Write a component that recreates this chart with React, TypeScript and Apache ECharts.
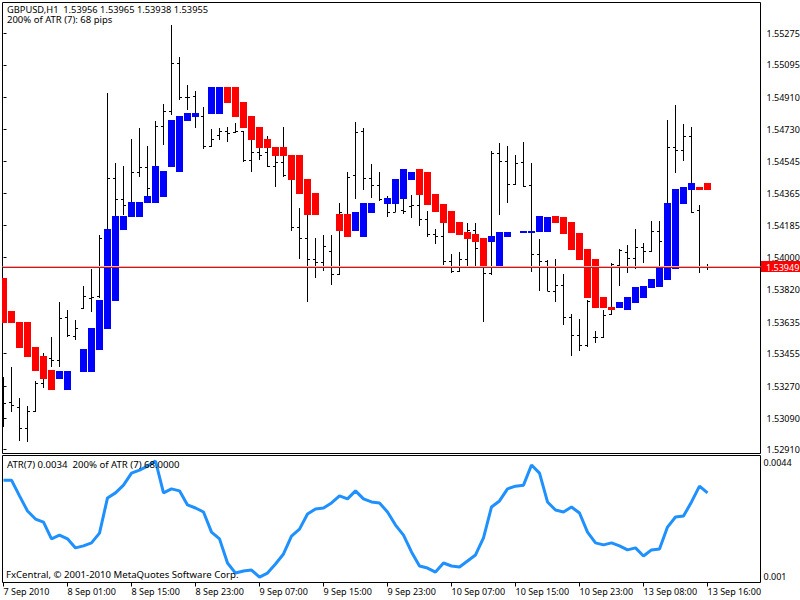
import React, { useEffect, useRef } from "react";
import * as echarts from "echarts";

const highs = [1.53323,1.53380,1.53204,1.53158,1.53300,1.53459,1.53550,1.53749,1.53703,1.53646,1.53839,1.53936,1.54129,1.54935,1.54537,1.54520,1.54674,1.54736,1.54634,1.54776,1.54872,1.55321,1.55139,1.54980,1.54946,1.54855,1.54731,1.54736,1.54742,1.54765,1.54719,1.54668,1.54623,1.54691,1.54577,1.54742,1.54441,1.54282,1.54242,1.54112,1.54129,1.54129,1.54310,1.54486,1.54770,1.54736,1.54532,1.54486,1.54350,1.54384,1.54333,1.54356,1.54356,1.54265,1.54163,1.54197,1.54021,1.54032,1.54197,1.54197,1.54100,1.54606,1.54651,1.54634,1.54583,1.54657,1.54537,1.54106,1.53987,1.53993,1.53907,1.53680,1.53652,1.53760,1.53584,1.53703,1.53970,1.54049,1.54072,1.54163,1.54083,1.54208,1.54208,1.54782,1.54867,1.54759,1.54742,1.54299,1.53964];
const lows = [1.53039,1.53124,1.52960,1.52954,1.53124,1.53260,1.53380,1.53380,1.53550,1.53533,1.53709,1.53692,1.53771,1.54100,1.54186,1.54242,1.54316,1.54458,1.54350,1.54520,1.54640,1.54810,1.54895,1.54838,1.54736,1.54617,1.54628,1.54668,1.54657,1.54708,1.54543,1.54486,1.54555,1.54515,1.54401,1.54458,1.54152,1.53993,1.53749,1.53885,1.53925,1.53845,1.53902,1.54118,1.54333,1.54384,1.54339,1.54322,1.54231,1.54259,1.54248,1.54225,1.54180,1.54118,1.54078,1.53959,1.53913,1.53919,1.53947,1.53947,1.53635,1.53902,1.54242,1.54310,1.54413,1.54401,1.53919,1.53811,1.53811,1.53749,1.53618,1.53442,1.53470,1.53493,1.53516,1.53544,1.53675,1.53839,1.53913,1.53936,1.53970,1.54032,1.53947,1.54044,1.54481,1.54549,1.54254,1.53913,1.53930];
const opens = [1.53175,1.53181,1.53153,1.53033,1.53130,1.53289,1.53431,1.53419,1.53663,1.53556,1.53714,1.53771,1.53783,1.54112,1.54452,1.54333,1.54299,1.54486,1.54515,1.54396,1.54748,1.54833,1.55105,1.54912,1.54918,1.54804,1.54634,1.54696,1.54719,1.54713,1.54719,1.54555,1.54600,1.54600,1.54520,1.54543,1.54469,1.54174,1.54112,1.53993,1.53976,1.54038,1.53907,1.54248,1.54469,1.54719,1.54452,1.54413,1.54322,1.54259,1.54271,1.54293,1.54299,1.54220,1.54135,1.54123,1.53981,1.53925,1.53993,1.54157,1.54055,1.53913,1.54594,1.54549,1.54418,1.54543,1.54413,1.54021,1.53981,1.53811,1.53845,1.53663,1.53561,1.53504,1.53550,1.53550,1.53680,1.53959,1.54032,1.53998,1.54061,1.54038,1.54152,1.54095,1.54628,1.54611,1.54691,1.54271,1.53953];
const closes = [1.53175,1.53164,1.53033,1.53130,1.53289,1.53317,1.53419,1.53658,1.53561,1.53601,1.53783,1.53777,1.54112,1.54452,1.54333,1.54299,1.54486,1.54515,1.54396,1.54748,1.54833,1.55105,1.54912,1.54912,1.54804,1.54634,1.54674,1.54719,1.54708,1.54719,1.54555,1.54600,1.54583,1.54520,1.54543,1.54469,1.54174,1.54112,1.53993,1.53976,1.54066,1.53907,1.54259,1.54458,1.54713,1.54452,1.54413,1.54333,1.54259,1.54356,1.54265,1.54299,1.54220,1.54135,1.54123,1.53981,1.53925,1.53993,1.54157,1.54055,1.53913,1.54594,1.54549,1.54418,1.54537,1.54407,1.54021,1.53981,1.53811,1.53845,1.53663,1.53561,1.53504,1.53754,1.53550,1.53675,1.53964,1.54044,1.53998,1.54061,1.54038,1.54152,1.54095,1.54628,1.54611,1.54691,1.54259,1.53953,1.53953];
const bodyOpens: (number | null)[] = [1.53885,1.53698,1.53635,1.53635,1.53493,1.53442,1.53363,1.53311,1.53249,null,1.53351,1.53351,1.53476,1.53595,1.53754,1.54157,1.54231,1.54231,1.54310,1.54310,1.54344,1.54515,1.54486,1.54776,1.54799,null,1.54816,1.54816,1.54969,1.54969,1.54884,1.54804,1.54742,1.54674,1.54628,1.54628,1.54583,1.54583,1.54447,1.54367,null,null,1.54248,1.54248,1.54152,1.54118,1.54254,null,1.54305,1.54305,1.54333,1.54441,1.54503,1.54486,1.54362,1.54305,1.54265,1.54203,1.54146,1.54135,1.54112,1.54089,1.53953,1.54118,null,1.54140,1.54140,1.54146,1.54146,1.54237,1.54231,1.54203,1.54140,1.54049,1.53993,1.53777,1.53720,1.53714,1.53703,1.53743,1.53771,1.53828,1.53834,1.53873,1.53936,1.54305,1.54384,1.54401,1.54424];
const bodyCloses: (number | null)[] = [1.53629,1.53629,1.53487,1.53436,1.53357,1.53311,1.53249,1.53357,1.53357,null,1.53482,1.53601,1.53760,1.54163,1.54237,1.54237,1.54316,1.54316,1.54350,1.54520,1.54492,1.54782,1.54804,1.54821,1.54821,null,1.54969,1.54969,1.54878,1.54799,1.54736,1.54668,1.54623,1.54623,1.54577,1.54577,1.54441,1.54362,1.54242,1.54242,null,null,1.54152,1.54118,1.54259,1.54310,1.54310,null,1.54339,1.54447,1.54503,1.54486,1.54356,1.54299,1.54259,1.54197,1.54140,1.54129,1.54106,1.54089,1.53953,1.54123,1.54146,1.54146,null,1.54152,1.54152,1.54237,1.54231,1.54197,1.54135,1.54044,1.53987,1.53771,1.53714,1.53714,1.53703,1.53749,1.53777,1.53834,1.53839,1.53879,1.53947,1.54310,1.54390,1.54401,1.54424,1.54384,1.54384];
const atrValues = [0.00386,0.00386,0.00339,0.00294,0.00270,0.00261,0.00211,0.00222,0.00211,0.00184,0.00190,0.00199,0.00228,0.00333,0.00348,0.00371,0.00407,0.00416,0.00428,0.00443,0.00348,0.00360,0.00354,0.00312,0.00303,0.00291,0.00231,0.00211,0.00139,0.00109,0.00115,0.00118,0.00097,0.00109,0.00136,0.00166,0.00219,0.00240,0.00285,0.00300,0.00303,0.00318,0.00339,0.00330,0.00354,0.00330,0.00321,0.00318,0.00291,0.00252,0.00222,0.00172,0.00130,0.00124,0.00112,0.00139,0.00130,0.00127,0.00145,0.00163,0.00214,0.00306,0.00324,0.00360,0.00368,0.00371,0.00431,0.00407,0.00321,0.00297,0.00291,0.00306,0.00288,0.00231,0.00199,0.00193,0.00199,0.00190,0.00178,0.00184,0.00160,0.00178,0.00181,0.00246,0.00276,0.00279,0.00321,0.00368,0.00348];

const priceTicks = [1.55275,1.55095,1.54910,1.54730,1.54545,1.54365,1.54185,1.54000,1.53820,1.53635,1.53455,1.53270,1.53090,1.52910];
const atrTicks = [0.0044, 0.001];
const timeTickIndex = [0,8,16,24,32,40,48,56,64,72,80,88];
const timeTickLabels = ["7 Sep 2010","8 Sep 01:00","8 Sep 15:00","8 Sep 23:00","9 Sep 07:00","9 Sep 15:00","9 Sep 23:00","10 Sep 07:00","10 Sep 15:00","10 Sep 23:00","13 Sep 08:00","13 Sep 16:00"];
const bidPrice = 1.53949;
const upperLine = 1.53955;
const headerLines = ["GBPUSD,H1  1.53956 1.53965 1.53938 1.53955", "200% of ATR (7): 68 pips"];
const atrCaption = "ATR(7) 0.0034  200% of ATR (7) 68.0000";
const brokerCaption = "FxCentral, © 2001-2010 MetaQuotes Software Corp.";

const FONT = '"Noto Sans"';
const FS = 9;
const X_MIN = -0.125;
const X_MAX = 94.625;

const barData = highs.map((h, i) => [i, opens[i], h, lows[i], closes[i]]);
const bodyData = bodyOpens
  .map((o, i) => [i, o, bodyCloses[i]])
  .filter((d) => d[1] !== null);
const atrData = atrValues.map((v, i) => [i, v]);
const priceLineData = [[upperLine], [bidPrice]];

const renderBar = (_p: any, api: any) => {
  const i = api.value(0);
  const px = Math.floor(api.coord([i, api.value(2)])[0]) + 0.5;
  const y = (k: number) => api.coord([i, api.value(k)])[1];
  const style = { stroke: "#000", lineWidth: 1, fill: "none" };
  const row = (k: number) => Math.round(y(k)) + 0.5;
  return {
    type: "group",
    children: [
      { type: "line", shape: { x1: px, y1: Math.round(y(2)), x2: px, y2: Math.round(y(3)) }, style },
      { type: "line", shape: { x1: px - 2.5, y1: row(1), x2: px, y2: row(1) }, style },
      { type: "line", shape: { x1: px, y1: row(4), x2: px + 2.5, y2: row(4) }, style },
    ],
  };
};

const renderBody = (_p: any, api: any) => {
  const i = api.value(0);
  const o = api.value(1);
  const c = api.value(2);
  const a = api.coord([i, o]);
  const b = api.coord([i, c]);
  const px = Math.floor(a[0]) + 0.5;
  const top = Math.round(Math.min(a[1], b[1]));
  const bottom = Math.round(Math.max(a[1], b[1]));
  return {
    type: "rect",
    shape: { x: px - 3.5, y: top, width: 7, height: bottom - top },
    style: { fill: c > o ? "#0000FF" : "#FF0000", stroke: "none" },
  };
};

const renderPriceLine = (p: any, api: any) => {
  const price = api.value(0);
  const a = api.coord([X_MIN, price]);
  const b = api.coord([X_MAX, price]);
  const y = Math.round(a[1]) + 0.5;
  const isBid = p.dataIndex === 1;
  const children: any[] = [
    {
      type: "line",
      shape: { x1: a[0], y1: y, x2: b[0], y2: y },
      style: { stroke: isBid ? "#FF0000" : "#C0C0C0", lineWidth: 1, fill: "none" },
    },
  ];
  if (isBid) {
    children.push(
      { type: "rect", shape: { x: b[0] + 0.5, y: y - 6.5, width: 39, height: 11 }, style: { fill: "#FF0000", stroke: "none" } },
      {
        type: "text",
        x: b[0] + 5.5,
        y: y - 0.5,
        style: { text: price.toFixed(5), fill: "#fff", font: `${FS}px ${FONT}`, verticalAlign: "middle", align: "left" },
      }
    );
  }
  return { type: "group", children };
};

const text = (s: string, x: number, y: number, size = FS) => ({
  type: "text",
  x,
  y,
  z: 20,
  silent: true,
  style: { text: s, fill: "#000", font: `${size}px ${FONT}` },
});

export default function App() {
  const ref = useRef<HTMLDivElement>(null);
  useEffect(() => {
    document.body.style.margin = "0";
    const chart = echarts.init(ref.current!, null, { renderer: "svg" });
    const gridStyle = {
      show: true,
      borderColor: "#000",
      borderWidth: 1,
      backgroundColor: "#fff",
      outerBoundsMode: "none",
    };
    chart.setOption({
      animation: false,
      backgroundColor: "#fff",
      grid: [
        { left: 2.5, top: 2.5, width: 758, height: 451, ...gridStyle },
        { left: 2.5, top: 455.5, width: 758, height: 127, ...gridStyle },
      ],
      xAxis: [
        { type: "value", gridIndex: 0, min: X_MIN, max: X_MAX, show: false, splitLine: { show: false } },
        {
          type: "value",
          gridIndex: 1,
          min: X_MIN,
          max: X_MAX,
          splitLine: { show: false },
          axisLine: { show: false },
          axisTick: { show: true, length: 4, customValues: timeTickIndex, lineStyle: { color: "#000" } },
          axisLabel: {
            customValues: timeTickIndex,
            align: "left",
            margin: 4,
            hideOverlap: false,
            showMinLabel: true,
            showMaxLabel: true,
            color: "#000",
            fontFamily: FONT,
            fontSize: FS,
            formatter: (v: number) => timeTickLabels[timeTickIndex.indexOf(v)] ?? "",
          },
        },
      ],
      yAxis: [
        {
          type: "value",
          gridIndex: 0,
          position: "right",
          min: 1.528886,
          max: 1.554485,
          splitLine: { show: false },
          axisLine: { show: false },
          axisTick: { show: true, length: 3, customValues: priceTicks, lineStyle: { color: "#000" } },
          axisLabel: {
            customValues: priceTicks,
            margin: 6,
            color: "#000",
            fontFamily: FONT,
            fontSize: FS,
            formatter: (v: number) => v.toFixed(5),
          },
        },
        {
          type: "value",
          gridIndex: 1,
          position: "right",
          min: 0.000809,
          max: 0.004594,
          splitLine: { show: false },
          axisLine: { show: false },
          axisTick: { show: false },
          axisLabel: {
            customValues: atrTicks,
            margin: 3,
            color: "#000",
            fontFamily: FONT,
            fontSize: FS,
            formatter: (v: number) => String(v),
          },
        },
      ],
      series: [
        {
          type: "custom",
          name: "OHLC",
          xAxisIndex: 0,
          yAxisIndex: 0,
          coordinateSystem: "cartesian2d",
          clip: true,
          z: 2,
          silent: true,
          data: barData,
          encode: { x: 0, y: [1, 2, 3, 4] },
          renderItem: renderBar,
        },
        {
          type: "custom",
          name: "Bodies",
          xAxisIndex: 0,
          yAxisIndex: 0,
          coordinateSystem: "cartesian2d",
          clip: true,
          z: 3,
          silent: true,
          data: bodyData,
          encode: { x: 0, y: [1, 2] },
          renderItem: renderBody,
        },
        {
          type: "custom",
          name: "Price lines",
          xAxisIndex: 0,
          yAxisIndex: 0,
          coordinateSystem: "cartesian2d",
          z: 5,
          silent: true,
          data: priceLineData,
          encode: { y: 0 },
          renderItem: renderPriceLine,
        },
        {
          type: "line",
          name: "ATR(7)",
          xAxisIndex: 1,
          yAxisIndex: 1,
          data: atrData,
          showSymbol: false,
          symbol: "none",
          silent: true,
          z: 4,
          lineStyle: { color: "#1E90FF", width: 3 },
        },
      ],
      graphic: [
        text(headerLines[0], 7, 5, 9.3),
        text(headerLines[1], 7, 14.5, 9.5),
        text(atrCaption, 7, 459, 9.6),
        text(brokerCaption, 6, 569, 9.6),
      ],
    });
    return () => chart.dispose();
  }, []);
  return <div ref={ref} style={{ position: "absolute", left: 0, top: 0, width: 800, height: 600 }} />;
}
